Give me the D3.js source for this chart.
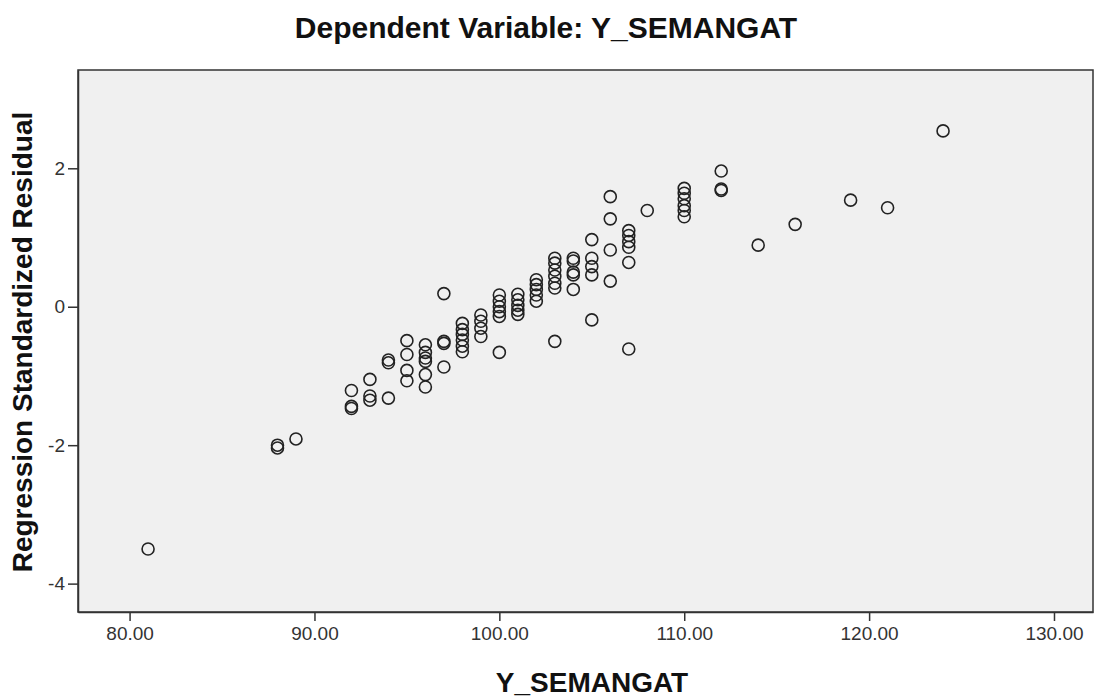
<!DOCTYPE html>
<html>
<head>
<meta charset="utf-8">
<script src="https://cdn.jsdelivr.net/npm/d3@7"></script>
<style>
    body { margin: 0; background: #fff; }
    svg { display: block; font-family: "Liberation Sans", Arial, sans-serif; }
</style>
</head>
<body>
<script>
// observed score (x) and standardized residual (y), one entry per case
var semangat = [
    81,
    88, 88, 89,
    92, 92, 92,
    93, 93, 93,
    94, 94, 94,
    95, 95, 95, 95,
    96, 96, 96, 96, 96, 96,
    97, 97, 97, 97,
    98, 98, 98, 98, 98, 98,
    99, 99, 99, 99,
    100, 100, 100, 100, 100, 100,
    101, 101, 101, 101, 101,
    102, 102, 102, 102, 102,
    103, 103, 103, 103, 103, 103, 103,
    104, 104, 104, 104, 104,
    105, 105, 105, 105, 105,
    106, 106, 106, 106,
    107, 107, 107, 107, 107, 107,
    108,
    110, 110, 110, 110, 110, 110,
    112, 112, 112,
    114, 116, 119, 121, 124
]
var residual = [
    -3.50,
    -2.00, -2.04, -1.91,
    -1.21, -1.44, -1.47,
    -1.05, -1.29, -1.35,
    -0.77, -0.81, -1.32,
    -0.49, -0.69, -0.92, -1.07,
    -0.55, -0.66, -0.74, -0.79, -0.98, -1.16,
    0.19, -0.50, -0.53, -0.87,
    -0.24, -0.33, -0.40, -0.48, -0.57, -0.65,
    -0.12, -0.21, -0.31, -0.43,
    0.17, 0.08, 0.00, -0.07, -0.14, -0.66,
    0.18, 0.10, 0.02, -0.05, -0.11,
    0.39, 0.32, 0.25, 0.17, 0.08,
    0.70, 0.63, 0.53, 0.44, 0.34, 0.27, -0.50,
    0.70, 0.66, 0.50, 0.46, 0.25,
    0.97, 0.70, 0.58, 0.46, -0.19,
    1.59, 1.27, 0.82, 0.37,
    1.10, 1.03, 0.94, 0.86, 0.64, -0.61,
    1.39,
    1.71, 1.64, 1.56, 1.46, 1.39, 1.30,
    1.96, 1.70, 1.68,
    0.89, 1.19, 1.54, 1.43, 2.54
]
var xTicks = [80, 90, 100, 110, 120, 130]
var yTicks = [-4, -2, 0, 2]

var chartTitle = "Dependent Variable: Y_SEMANGAT"
var xLabel = "Y_SEMANGAT"
var yLabel = "Regression Standardized Residual"

const width = 1094
const height = 700

// plot frame
const plotLeft = 78, plotRight = 1093, plotTop = 70, plotBottom = 612

var svg = d3.select("body")
    .append("svg")
    .attr("width", width)
    .attr("height", height)

var xScale = d3.scaleLinear()
    .domain([77.21, 132.11])
    .range([plotLeft, plotRight])

var yScale = d3.scaleLinear()
    .domain([-4.41, 3.42])
    .range([plotBottom, plotTop])

//plot background
svg.append("rect")
    .attr("x", plotLeft)
    .attr("y", plotTop)
    .attr("width", plotRight - plotLeft)
    .attr("height", plotBottom - plotTop)
    .attr("fill", "#f0f0f0")
    .attr("stroke", "#333")
    .attr("stroke-width", 1.5)

//axes
var xAxis = d3.axisBottom(xScale)
    .tickValues(xTicks)
    .tickSize(9)
    .tickSizeOuter(0)
    .tickPadding(6)
    .tickFormat(d3.format(".2f"))

var yAxis = d3.axisLeft(yScale)
    .tickValues(yTicks)
    .tickSize(10)
    .tickSizeOuter(0)
    .tickPadding(3)
    .tickFormat(d => d)

function styleAxis(g) {
    g.select(".domain").attr("stroke", "#333").attr("stroke-width", 1.5)
    g.selectAll(".tick line").attr("stroke", "#333").attr("stroke-width", 1.5)
    g.selectAll(".tick text")
        .attr("font-size", 19)
        .attr("fill", "#333")
}

svg.append("g")
    .attr("transform", "translate(0," + plotBottom + ")")
    .call(xAxis)
    .call(styleAxis)

svg.append("g")
    .attr("transform", "translate(" + plotLeft + ",0)")
    .call(yAxis)
    .call(styleAxis)

//points
svg.selectAll("circle.dot")
    .data(semangat.map((d, i) => [d, residual[i]]))
    .enter()
    .append("circle")
    .attr("class", "dot")
    .attr("cx", d => xScale(d[0]))
    .attr("cy", d => yScale(d[1]))
    .attr("r", 6)
    .attr("fill", "none")
    .attr("stroke", "#222")
    .attr("stroke-width", 1.6)

//title
svg.append("text")
    .attr("x", 546)
    .attr("y", 38)
    .attr("text-anchor", "middle")
    .attr("font-size", 30)
    .attr("font-weight", "bold")
    .attr("fill", "#111")
    .text(chartTitle)

//label x-axis
svg.append("text")
    .attr("x", 592)
    .attr("y", 692)
    .attr("text-anchor", "middle")
    .attr("font-size", 28)
    .attr("font-weight", "bold")
    .attr("fill", "#111")
    .text(xLabel)

//label y-axis
svg.append("text")
    .attr("transform", "rotate(-90)")
    .attr("x", -342)
    .attr("y", 32)
    .attr("text-anchor", "middle")
    .attr("font-size", 28)
    .attr("font-weight", "bold")
    .attr("fill", "#111")
    .text(yLabel)
</script>
</body>
</html>
